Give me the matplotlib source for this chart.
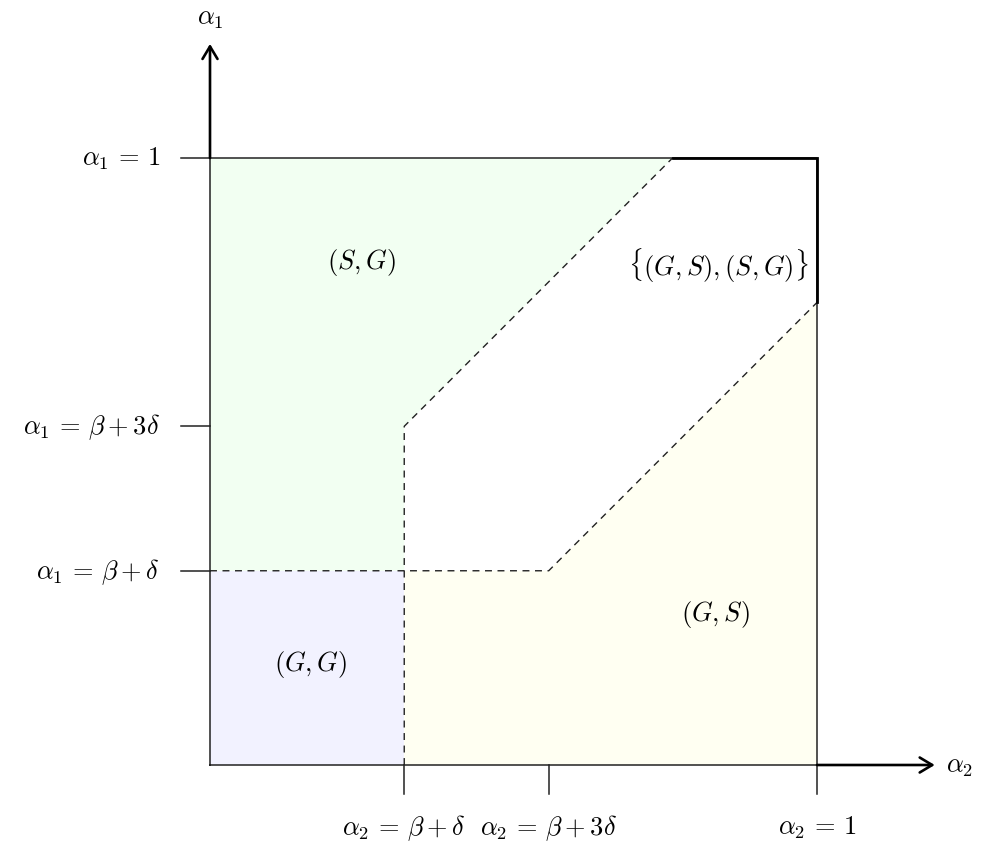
import matplotlib.pyplot as plt
import numpy as np

plt.rcParams["mathtext.fontset"] = "cm"

# thresholds on both axes (fractions of the unit square)
beta_delta = 0.32     # beta + delta
beta_3delta = 0.558   # beta + 3 delta
gap = beta_3delta - beta_delta

# where the two diagonal boundaries (slope 1) leave the square
upper_exit_x = 1 - gap   # upper line meets alpha1 = 1
lower_exit_y = 1 - gap   # lower line meets alpha2 = 1

region_labels = [r"$(S,G)$", r"$\{(G,S),(S,G)\}$", r"$(G,S)$", r"$(G,G)$"]
label_x = [0.25, 0.837, 0.832, 0.166]
label_y = [0.83, 0.824, 0.249, 0.167]

x_ticks = [beta_delta, beta_3delta, 1.0]
x_tick_labels = [r"$\alpha_2\,=\,\beta+\delta$", r"$\alpha_2\,=\,\beta+3\delta$",
                 r"$\alpha_2\,=\,1$"]
y_ticks = [beta_delta, beta_3delta, 1.0]
y_tick_labels = [r"$\alpha_1\,=\,\beta+\delta$", r"$\alpha_1\,=\,\beta+3\delta$",
                 r"$\alpha_1\,=\,1$"]

green = "#f2fff2"
blue = "#f2f2ff"
yellow = "#fffff2"
FS = 19

fig = plt.figure(figsize=(10, 8.62), dpi=100)
ax = fig.add_axes([0, 0, 1, 1])
ax.set_xlim(-210 / 607, 790 / 607)
ax.set_ylim(-96 / 607, 766 / 607)
ax.axis("off")

# --- regions ---------------------------------------------------------------
sg = np.array([[0, beta_delta], [0, 1], [upper_exit_x, 1],
               [beta_delta, beta_3delta], [beta_delta, beta_delta]])
gg = np.array([[0, 0], [beta_delta, 0], [beta_delta, beta_delta], [0, beta_delta]])
gs = np.array([[beta_delta, 0], [1, 0], [1, lower_exit_y],
               [beta_3delta, beta_delta], [beta_delta, beta_delta]])
ax.fill(sg[:, 0], sg[:, 1], color=green, lw=0, zorder=1)
ax.fill(gg[:, 0], gg[:, 1], color=blue, lw=0, zorder=1)
ax.fill(gs[:, 0], gs[:, 1], color=yellow, lw=0, zorder=1)

# square border (thin)
ax.plot([0, 1, 1, 0, 0], [0, 0, 1, 1, 0], color="#222222", lw=1.1, zorder=2)

# dashed boundaries
dash = dict(color="#222222", lw=1.0, ls=(0, (5, 4)), zorder=3)
ax.plot([beta_delta, beta_delta, upper_exit_x], [0, beta_3delta, 1], **dash)
ax.plot([0, beta_3delta, 1], [beta_delta, beta_delta, lower_exit_y], **dash)

# thick boundary of the mixed region
ax.plot([upper_exit_x, 1, 1], [1, 1, lower_exit_y], color="black", lw=2.0,
        solid_joinstyle="miter", zorder=4)

# axes arrows beyond the square
arrow = dict(arrowstyle="->,head_length=0.5,head_width=0.3", lw=1.9,
             color="black", mutation_scale=18, shrinkA=0, shrinkB=0)
ax.annotate("", xy=(0, 1.188), xytext=(0, 1.0), arrowprops=arrow, zorder=4)
ax.annotate("", xy=(1.194, 0), xytext=(1.0, 0), arrowprops=arrow, zorder=4)
ax.text(0, 1.232, r"$\alpha_1$", ha="center", va="center", fontsize=FS)
ax.text(1.212, 0, r"$\alpha_2$", ha="left", va="center", fontsize=FS)

# ticks
tick_len = 29 / 607
for xv, lab in zip(x_ticks, x_tick_labels):
    ax.plot([xv, xv], [0, -tick_len], color="#222222", lw=1.1, zorder=2)
    ax.text(xv, -0.102, lab, ha="center", va="center", fontsize=FS)
for yv, lab in zip(y_ticks, y_tick_labels):
    ax.plot([0, -tick_len], [yv, yv], color="#222222", lw=1.1, zorder=2)
    ax.text(-0.082, yv, lab, ha="right", va="center", fontsize=FS)

# region labels
for lab, xv, yv in zip(region_labels, label_x, label_y):
    ax.text(xv, yv, lab, ha="center", va="center", fontsize=FS, zorder=5)

fig.savefig("out.png", dpi=100)
